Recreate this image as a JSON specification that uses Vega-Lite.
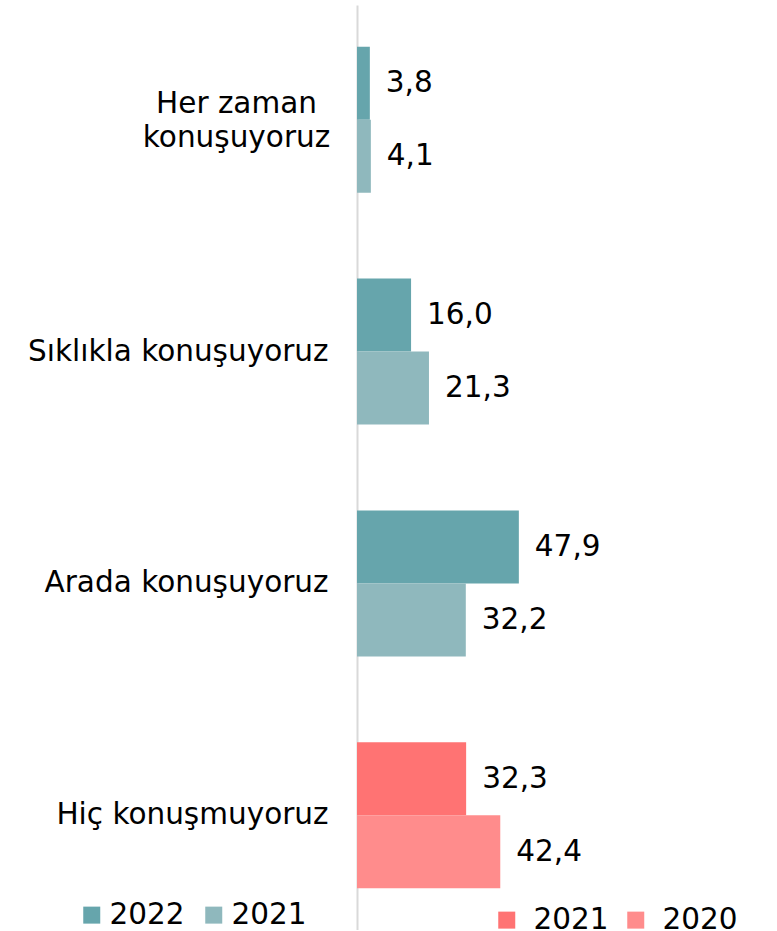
{
  "$schema": "https://vega.github.io/schema/vega-lite/v6.json",
  "width": 420,
  "height": 925,
  "autosize": {"type": "none"},
  "padding": {"left": 357, "top": 5, "right": 0, "bottom": 0},
  "background": "white",
  "config": {
    "view": {"stroke": null},
    "font": "DejaVu Sans",
    "locale": {"number": {"decimal": ",", "thousands": ".", "grouping": [3], "currency": ["", " TL"]}}
  },
  "data": {
    "values": [
      {"category": "Her zaman konuşuyoruz", "year": "2022", "period": "current", "palette": "teal", "value": 3.8},
      {"category": "Her zaman konuşuyoruz", "year": "2021", "period": "previous", "palette": "teal", "value": 4.1},
      {"category": "Sıklıkla konuşuyoruz", "year": "2022", "period": "current", "palette": "teal", "value": 16.0},
      {"category": "Sıklıkla konuşuyoruz", "year": "2021", "period": "previous", "palette": "teal", "value": 21.3},
      {"category": "Arada konuşuyoruz", "year": "2022", "period": "current", "palette": "teal", "value": 47.9},
      {"category": "Arada konuşuyoruz", "year": "2021", "period": "previous", "palette": "teal", "value": 32.2},
      {"category": "Hiç konuşmuyoruz", "year": "2021", "period": "current", "palette": "red", "value": 32.3},
      {"category": "Hiç konuşmuyoruz", "year": "2020", "period": "previous", "palette": "red", "value": 42.4}
    ]
  },
  "encoding": {
    "y": {
      "field": "category",
      "type": "nominal",
      "sort": ["Her zaman konuşuyoruz", "Sıklıkla konuşuyoruz", "Arada konuşuyoruz", "Hiç konuşmuyoruz"],
      "scale": {"paddingInner": 0.37, "paddingOuter": 0.18},
      "axis": {
        "title": null,
        "ticks": false,
        "tickSize": 0,
        "labelPadding": {"condition": {"test": "datum.value == 'Her zaman konuşuyoruz'", "value": 121}, "value": 29},
        "labelAlign": {"condition": {"test": "datum.value == 'Her zaman konuşuyoruz'", "value": "center"}, "value": "right"},
        "labelOffset": {"condition": {"test": "datum.value == 'Her zaman konuşuyoruz'", "value": -16}, "value": 0},
        "labelFontSize": 29.5,
        "labelFont": "DejaVu Sans",
        "labelColor": "#000000",
        "labelLimit": 400,
        "labelLineHeight": 34,
        "labelExpr": "datum.value == 'Her zaman konuşuyoruz' ? ['Her zaman', 'konuşuyoruz'] : datum.value",
        "domainColor": "#d9d9d9",
        "domainWidth": 2,
        "grid": false
      }
    },
    "x": {
      "field": "value",
      "type": "quantitative",
      "scale": {"domain": [0, 124.3], "nice": false, "zero": true},
      "axis": null
    },
    "yOffset": {"field": "period", "type": "nominal", "sort": ["current", "previous"]}
  },
  "layer": [
    {
      "transform": [{"filter": "datum.palette == 'teal'"}],
      "mark": {"type": "bar", "opacity": 1},
      "encoding": {
        "color": {
          "field": "year",
          "type": "nominal",
          "scale": {"domain": ["2022", "2021"], "range": ["#66a5ac", "#8fb8bd"]},
          "legend": {
            "title": null,
            "orient": "none",
            "direction": "horizontal",
            "legendX": -280,
            "legendY": 895,
            "symbolType": "square",
            "symbolSize": 289,
            "symbolStrokeWidth": 0,
            "symbolOpacity": 1,
            "labelFontSize": 29.5,
            "labelFont": "DejaVu Sans",
            "labelColor": "#000000",
            "labelOffset": 3,
            "columnPadding": 14
          }
        }
      }
    },
    {
      "transform": [{"filter": "datum.palette == 'red'"}],
      "mark": {"type": "bar", "opacity": 1},
      "encoding": {
        "fill": {
          "field": "year",
          "type": "nominal",
          "scale": {"domain": ["2021", "2020"], "range": ["#ff7373", "#ff8c8c"]},
          "legend": {
            "title": null,
            "orient": "none",
            "direction": "horizontal",
            "legendX": 135,
            "legendY": 900,
            "symbolType": "square",
            "symbolSize": 289,
            "symbolStrokeWidth": 0,
            "symbolOpacity": 1,
            "labelFontSize": 29.5,
            "labelFont": "DejaVu Sans",
            "labelColor": "#000000",
            "labelOffset": 12,
            "columnPadding": 12
          }
        }
      }
    },
    {
      "mark": {"type": "text", "align": "left", "baseline": "middle", "dx": 16, "fontSize": 29.5, "font": "DejaVu Sans", "color": "#000000"},
      "encoding": {
        "text": {"field": "value", "type": "quantitative", "format": ".1f"}
      }
    }
  ]
}
